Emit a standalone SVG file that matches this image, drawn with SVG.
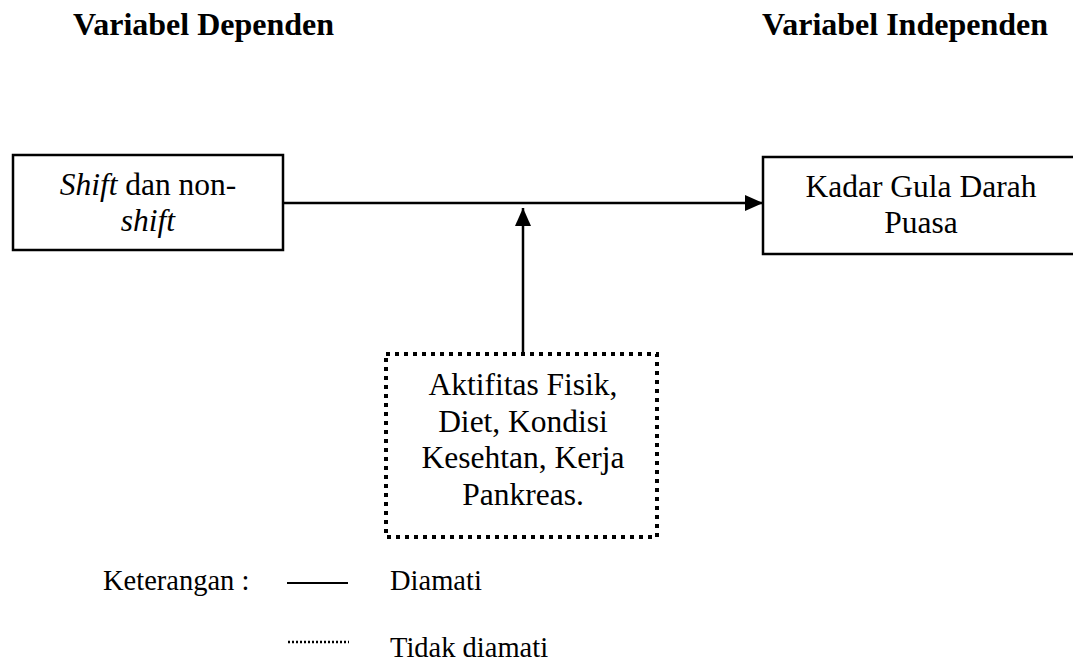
<svg xmlns="http://www.w3.org/2000/svg" width="1073" height="664" viewBox="0 0 1073 664">
<style>
text{font-family:"Liberation Serif","Times New Roman",serif;fill:#000}
.t{font-size:32px;font-weight:bold}
.n{font-size:31.5px}
.l{font-size:28.5px}
.box{fill:#fff;stroke:#000;stroke-width:2.5}
.dbox{fill:#fff;stroke:#000;stroke-width:4;stroke-dasharray:4 5}
.c{fill:none;stroke:#000;stroke-width:2.5}
</style>
<defs>
<marker id="ah" markerWidth="18" markerHeight="16" refX="18" refY="8" orient="auto" markerUnits="userSpaceOnUse">
<path d="M0,0 L18,8 L0,16 Z" fill="#000"/>
</marker>
</defs>
<g id="titles">
<text class="t" x="73" y="35">Variabel Dependen</text>
<text class="t" x="762" y="35">Variabel Independen</text>
</g>
<g id="connectors">
<line class="c" x1="283" y1="203" x2="763" y2="203" marker-end="url(#ah)"/>
<line class="c" x1="523" y1="353" x2="523" y2="208" marker-end="url(#ah)"/>
</g>
<g id="node-shift">
<rect class="box" x="13" y="155" width="270" height="95"/>
<text class="n" x="148" y="195" text-anchor="middle"><tspan font-style="italic">Shift</tspan> dan non-</text>
<text class="n" x="148" y="231" text-anchor="middle" font-style="italic">shift</text>
</g>
<g id="node-kadar">
<rect class="box" x="763" y="157" width="320" height="97"/>
<text class="n" x="921" y="197" text-anchor="middle">Kadar Gula Darah</text>
<text class="n" x="921" y="233" text-anchor="middle">Puasa</text>
</g>
<g id="node-faktor">
<rect class="dbox" x="386" y="354" width="271" height="183"/>
<text class="n" x="523" y="395" text-anchor="middle">Aktifitas Fisik,</text>
<text class="n" x="523" y="432" text-anchor="middle">Diet, Kondisi</text>
<text class="n" x="523" y="468" text-anchor="middle">Kesehtan, Kerja</text>
<text class="n" x="523" y="505" text-anchor="middle">Pankreas.</text>
</g>
<g id="legend">
<text class="l" x="103" y="590">Keterangan :</text>
<line x1="287" y1="583" x2="348" y2="583" stroke="#000" stroke-width="2"/>
<text class="l" x="390" y="590">Diamati</text>
<line x1="288" y1="642" x2="349" y2="642" stroke="#000" stroke-width="2.5" stroke-dasharray="2 2"/>
<text class="l" x="390" y="657">Tidak diamati</text>
</g>
</svg>
